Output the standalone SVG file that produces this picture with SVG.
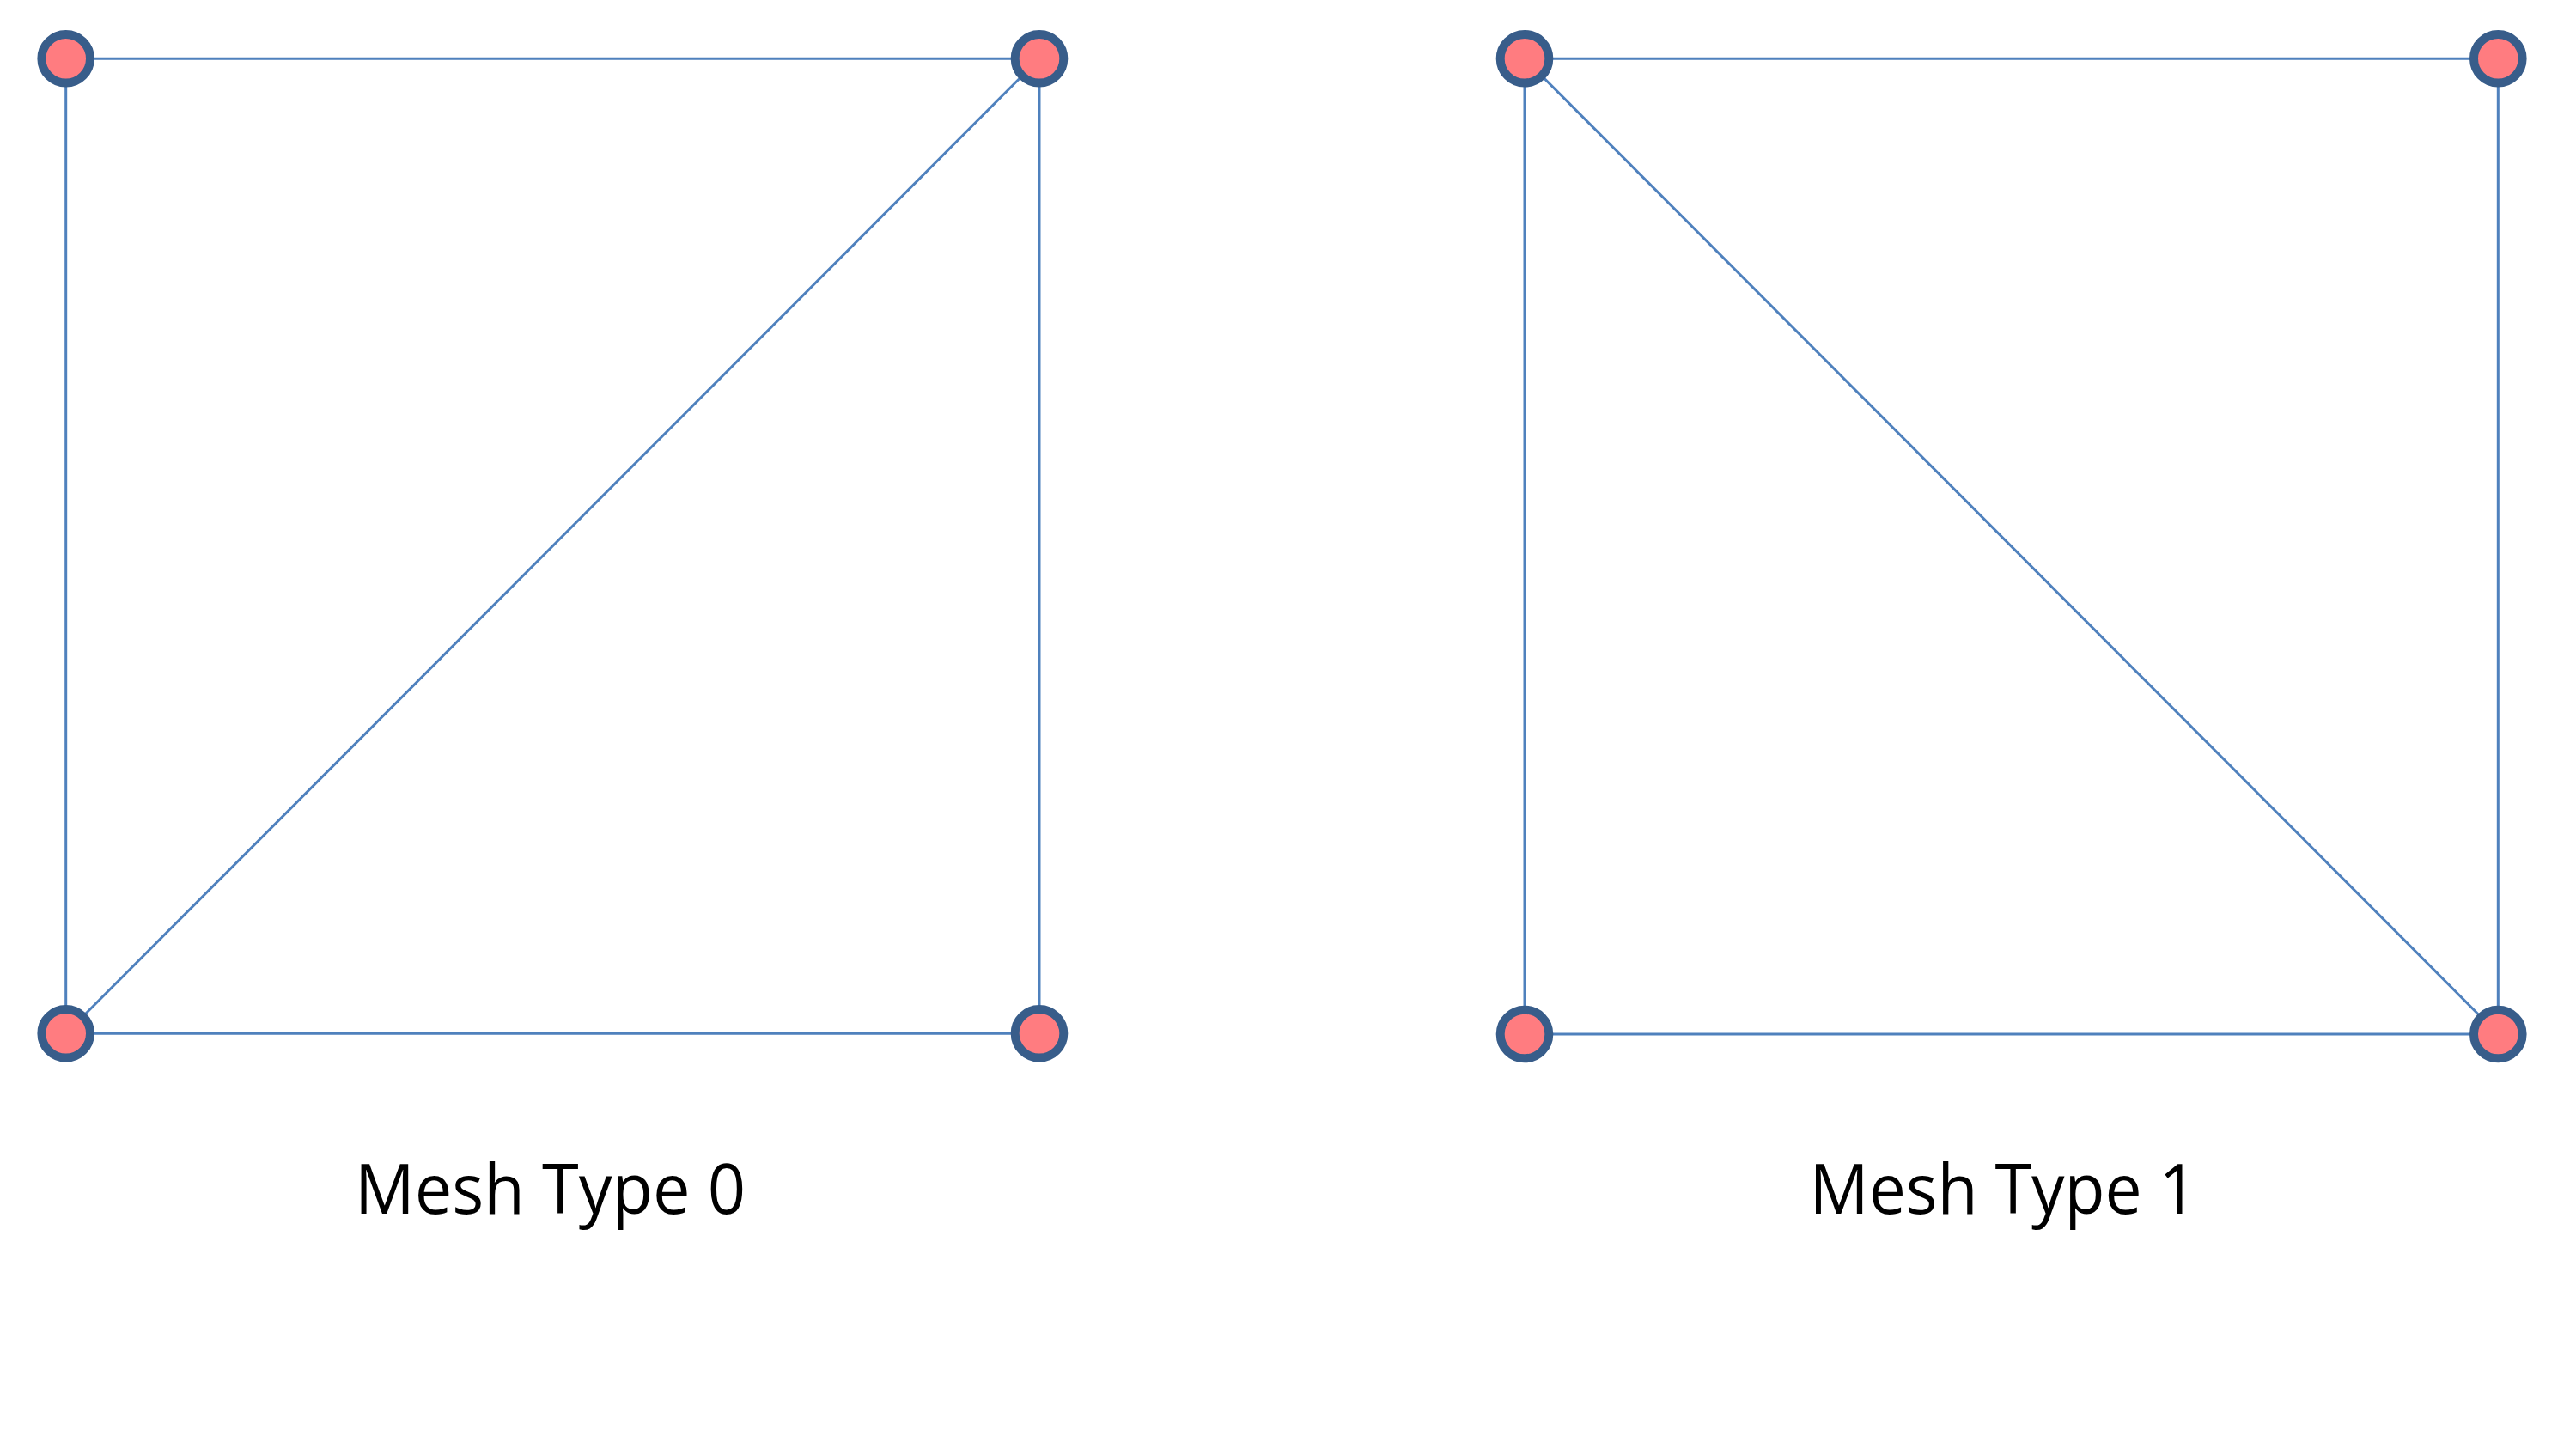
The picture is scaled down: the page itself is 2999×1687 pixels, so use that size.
<svg xmlns="http://www.w3.org/2000/svg" width="2999" height="1687" viewBox="0 0 2999 1687">
<style>
.edge{stroke:#4F81BD;stroke-width:3;fill:none}
.node{fill:#FF7C80;stroke:#385D8A;stroke-width:10}
.label{font-family:"Open Sans","Noto Sans",sans-serif;font-size:80px;fill:#000;text-anchor:middle}
</style>
<rect width="2999" height="1687" fill="#fff"/>
<g id="connectors">
<line class="edge" x1="76.7" y1="68.3" x2="1210" y2="68.3"/>
<line class="edge" x1="76.7" y1="68.3" x2="76.7" y2="1203.3"/>
<line class="edge" x1="1210" y1="68.3" x2="1210" y2="1203.3"/>
<line class="edge" x1="76.7" y1="1203.3" x2="1210" y2="1203.3"/>
<line class="edge" x1="76.7" y1="1203.3" x2="1210" y2="68.3"/>
<line class="edge" x1="1775" y1="68.3" x2="2908.3" y2="68.3"/>
<line class="edge" x1="1775" y1="68.3" x2="1775" y2="1204"/>
<line class="edge" x1="2908.3" y1="68.3" x2="2908.3" y2="1204"/>
<line class="edge" x1="1775" y1="1204" x2="2908.3" y2="1204"/>
<line class="edge" x1="1775" y1="68.3" x2="2908.3" y2="1204"/>
</g>
<g id="m0-tl"><circle class="node" cx="76.7" cy="68.3" r="28.3"/></g>
<g id="m0-tr"><circle class="node" cx="1210" cy="68.3" r="28.3"/></g>
<g id="m0-bl"><circle class="node" cx="76.7" cy="1203.3" r="28.3"/></g>
<g id="m0-br"><circle class="node" cx="1210" cy="1203.3" r="28.3"/></g>
<g id="m1-tl"><circle class="node" cx="1775" cy="68.3" r="28.3"/></g>
<g id="m1-tr"><circle class="node" cx="2908.3" cy="68.3" r="28.3"/></g>
<g id="m1-bl"><circle class="node" cx="1775" cy="1204" r="28.3"/></g>
<g id="m1-br"><circle class="node" cx="2908.3" cy="1204" r="28.3"/></g>
<g id="label0"><text class="label" x="640.5" y="1412.7" textLength="455" lengthAdjust="spacingAndGlyphs">Mesh Type 0</text></g>
<g id="label1"><text class="label" x="2332" y="1412.7" textLength="451" lengthAdjust="spacingAndGlyphs">Mesh Type 1</text></g>
</svg>
